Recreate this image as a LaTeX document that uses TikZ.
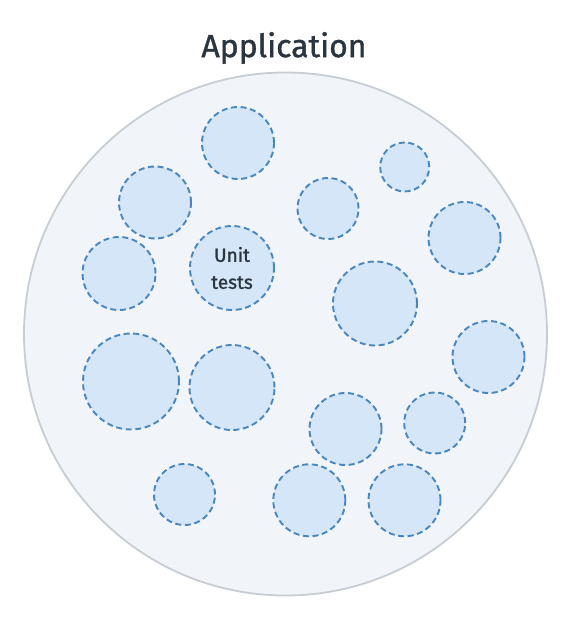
\documentclass[tikz,border=0pt]{standalone}
\usepackage{fontspec}
\setmainfont{Fira Sans}
\newfontfamily\medfont{Fira Sans}[FakeBold=1.2]
\definecolor{outerfill}{HTML}{F1F4F8}
\definecolor{outerdraw}{HTML}{C6CDD4}
\definecolor{unitfill}{HTML}{D4E6F7}
\definecolor{unitdraw}{HTML}{4A86BE}
\definecolor{txt}{HTML}{2B3540}
\begin{document}
\begin{tikzpicture}[x=1pt,y=-1pt,
  appcircle/.style={circle,draw=outerdraw,fill=outerfill,line width=1.8pt,inner sep=0pt},
  unitc/.style={circle,draw=unitdraw,fill=unitfill,line width=1.9pt,dash pattern=on 6pt off 3.6pt,inner sep=0pt,minimum size=#1},
  unitc/.default=72pt]
\useasboundingbox (0,0) rectangle (572,620);
\node[font=\medfont\fontsize{32}{38}\selectfont,text=txt] (title) at (284,48) {Application};
\node[appcircle,minimum size=523pt] (app) at (285.5,334) {};
\node[unitc=72pt] (c1) at (238,143) {};
\node[unitc=72pt] (c2) at (155,202.5) {};
\node[unitc=73pt] (c3) at (119,273.5) {};
\node[unitc=84pt,align=center,text=txt,font=\medfont\fontsize{19}{27}\selectfont] (ut) at (232,268) {Unit\\tests};
\node[unitc=96pt] (c5) at (131,381.5) {};
\node[unitc=85pt] (c6) at (232,387.5) {};
\node[unitc=61pt] (c7) at (184.5,494.5) {};
\node[unitc=61pt] (c8) at (328,208.5) {};
\node[unitc=49pt] (c9) at (404.7,167) {};
\node[unitc=72pt] (c10) at (464.5,238) {};
\node[unitc=84pt] (c11) at (375,303.5) {};
\node[unitc=72pt] (c12) at (488.5,357) {};
\node[unitc=72pt] (c13) at (345.5,429) {};
\node[unitc=61pt] (c14) at (434.7,423) {};
\node[unitc=72pt] (c15) at (309.3,500.3) {};
\node[unitc=72pt] (c16) at (404.5,500.3) {};
\end{tikzpicture}
\end{document}
